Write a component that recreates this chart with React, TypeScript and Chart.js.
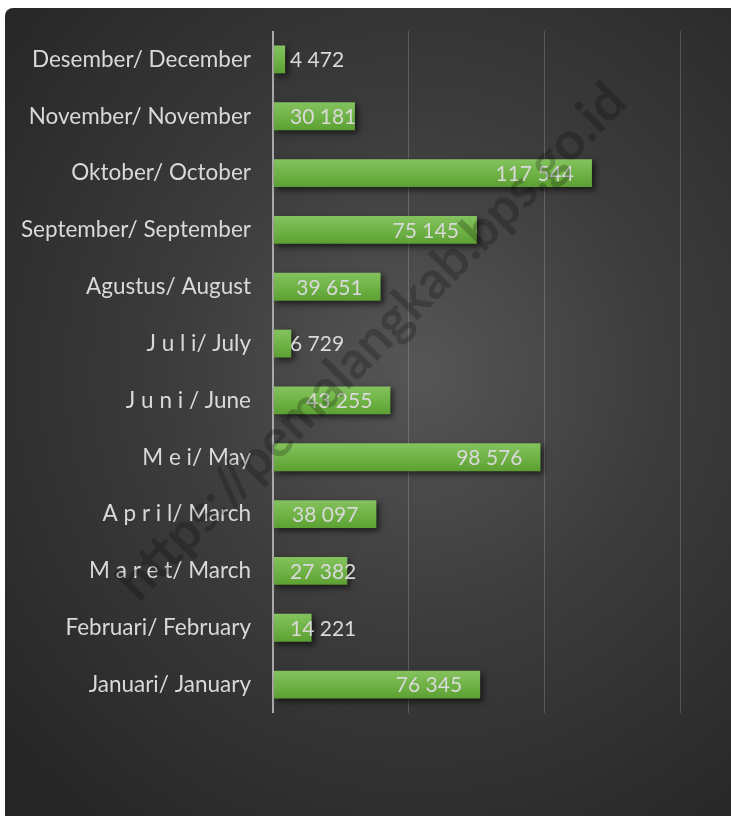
import React, { useEffect, useRef } from "react";
import { Chart, registerables } from "chart.js";

Chart.register(...registerables);

const categories = [
  "Januari/ January",
  "Februari/ February",
  "M a r e t/ March",
  "A p r i l/ March",
  "M e i/ May",
  "J u n i / June",
  "J u l i/ July",
  "Agustus/ August",
  "September/ September",
  "Oktober/ October",
  "November/ November",
  "Desember/ December",
];
const values = [76345, 14221, 27382, 38097, 98576, 43255, 6729, 39651, 75145, 117544, 30181, 4472];
const xTicks = [0, 50000, 100000, 150000];
const watermark = "https://pemalangkab.bps.go.id";

const FONT = "Lato, 'Noto Sans', sans-serif";
const TEXT = "#d9d9d9";
const BAR_PCT = 0.49;

const fmt = (v: number) => String(v).replace(/\B(?=(\d{3})+(?!\d))/g, " ");

export default function App() {
  const ref = useRef<HTMLCanvasElement | null>(null);

  useEffect(() => {
    const canvas = ref.current;
    if (!canvas) return;

    const shadowPlugin = {
      id: "shadow",
      beforeDatasetsDraw(chart: any) {
        const c = chart.ctx;
        c.save();
        c.shadowColor = "rgba(0,0,0,0.6)";
        c.shadowBlur = 6;
        c.shadowOffsetX = 3;
        c.shadowOffsetY = 3;
      },
      afterDatasetsDraw(chart: any) {
        chart.ctx.restore();
      },
    };

    const labelPlugin = {
      id: "valueLabels",
      afterDatasetsDraw(chart: any) {
        const c = chart.ctx;
        const xs = chart.scales.x;
        const ys = chart.scales.y;
        const base = xs.getPixelForValue(0);
        c.save();
        c.font = `21px ${FONT}`;
        c.fillStyle = TEXT;
        c.textAlign = "left";
        c.textBaseline = "middle";
        values.forEach((v, i) => {
          const txt = fmt(v);
          const w = c.measureText(txt).width;
          const end = xs.getPixelForValue(v);
          const left = Math.max(base + 17, end - 18 - w);
          c.fillText(txt, left, ys.getPixelForValue(i) + 1);
        });
        c.restore();
      },
    };

    const watermarkPlugin = {
      id: "watermark",
      afterDraw(chart: any) {
        const c = chart.ctx;
        c.save();
        let size = 40;
        c.font = `bold ${size}px ${FONT}`;
        const w0 = c.measureText(watermark).width;
        size = (size * 700) / w0;
        c.font = `bold ${size}px ${FONT}`;
        c.translate(379, 346);
        c.rotate((-45.5 * Math.PI) / 180);
        c.fillStyle = "rgba(0,0,0,0.22)";
        c.textAlign = "center";
        c.textBaseline = "alphabetic";
        c.fillText(watermark, 0, 0);
        c.restore();
      },
    };

    const chart = new Chart(canvas, {
      type: "bar",
      data: {
        labels: categories,
        datasets: [
          {
            data: values,
            categoryPercentage: 1,
            barPercentage: BAR_PCT,
            borderWidth: 0,
            backgroundColor: (ctx: any) => {
              const ch = ctx.chart;
              const area = ch.chartArea;
              const ys = ch.scales.y;
              if (!area || !ys) return "#6cb043";
              const y = ys.getPixelForValue(ctx.dataIndex);
              const half = ((area.bottom - area.top) / categories.length) * BAR_PCT * 0.5;
              const g = ch.ctx.createLinearGradient(0, y - half, 0, y + half);
              g.addColorStop(0, "#84c25e");
              g.addColorStop(0.5, "#70b346");
              g.addColorStop(1, "#5c9f33");
              return g;
            },
          },
        ],
      },
      options: {
        indexAxis: "y",
        animation: false,
        responsive: false,
        maintainAspectRatio: false,
        layout: { padding: { left: 0, right: 51, top: 23, bottom: 103 } },
        plugins: {
          legend: { display: false },
          tooltip: { enabled: false },
        },
        scales: {
          x: {
            min: 0,
            max: 150000,
            afterBuildTicks: (s: any) => {
              s.ticks = xTicks.map((v) => ({ value: v }));
            },
            afterFit: (s: any) => {
              s.height = 0;
              s.paddingLeft = 0;
              s.paddingRight = 0;
            },
            ticks: { display: false },
            border: { display: false },
            grid: {
              drawTicks: false,
              color: (ctx: any) => (ctx.tick && ctx.tick.value === 0 ? "#a8a8a8" : "rgba(255,255,255,0.18)"),
              lineWidth: (ctx: any) => (ctx.tick && ctx.tick.value === 0 ? 2 : 1),
            },
          },
          y: {
            reverse: true,
            afterFit: (s: any) => {
              s.width = 268;
              s.paddingTop = 0;
              s.paddingBottom = 0;
            },
            border: { display: false },
            grid: { display: false, drawTicks: false },
            ticks: {
              color: TEXT,
              padding: 22,
              font: { family: FONT, size: 22.5 },
            },
          },
        },
      },
      plugins: [shadowPlugin, labelPlugin, watermarkPlugin],
    } as any);

    return () => chart.destroy();
  }, []);

  return (
    <div
      style={{
        position: "fixed",
        left: 5,
        top: 8,
        width: 726,
        height: 808,
        borderTopLeftRadius: 8,
        overflow: "hidden",
        background: "radial-gradient(ellipse 75% 70% at 57% 45%, #565656 0%, #3c3c3c 45%, #262626 100%)",
      }}
    >
      <canvas ref={ref} width={726} height={808} style={{ display: "block", width: 726, height: 808 }} />
    </div>
  );
}
